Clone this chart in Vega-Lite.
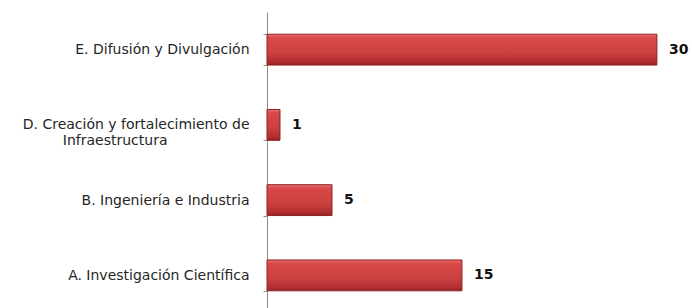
{
  "$schema": "https://vega.github.io/schema/vega-lite/v6.json",
  "width": 425,
  "height": 301,
  "autosize": "none",
  "padding": {"left": 267, "top": 12, "right": 0, "bottom": 0},
  "background": "white",
  "config": {"view": {"stroke": null}},
  "data": {"values": [
    {"categoria": "E. Difusión y Divulgación", "valor": 30},
    {"categoria": "D. Creación y fortalecimiento de Infraestructura", "valor": 1},
    {"categoria": "B. Ingeniería e Industria", "valor": 5},
    {"categoria": "A. Investigación Científica", "valor": 15}
  ]},
  "encoding": {
    "y": {
      "field": "categoria", "type": "nominal",
      "sort": ["E. Difusión y Divulgación", "D. Creación y fortalecimiento de Infraestructura", "B. Ingeniería e Industria", "A. Investigación Científica"],
      "scale": {"paddingInner": 0.59, "paddingOuter": 0.295},
      "axis": {
        "title": null,
        "tickBand": "extent",
        "tickSize": 4,
        "tickColor": "#8c8c8c",
        "domainColor": "#8c8c8c",
        "labelFont": "DejaVu Sans",
        "labelFontSize": 14,
        "labelColor": "#262626",
        "labelPadding": 14,
        "labelLimit": 0,
        "labelLineHeight": 16,
        "labelExpr": "datum.value == 'D. Creación y fortalecimiento de Infraestructura' ? ['D. Creación y fortalecimiento de', 'Infraestructura\u2800\u2800\u2800\u2800\u2800\u2800\u2800\u2800'] : datum.value"
      }
    },
    "x": {
      "field": "valor", "type": "quantitative",
      "scale": {"domain": [0, 32.7], "nice": false},
      "axis": null
    }
  },
  "layer": [
    {
      "mark": {
        "type": "bar",
        "stroke": "#8e2222",
        "strokeWidth": 1,
        "fill": {
          "gradient": "linear", "x1": 0, "y1": 0, "x2": 0, "y2": 1,
          "stops": [
            {"offset": 0, "color": "#e77070"},
            {"offset": 0.12, "color": "#d84848"},
            {"offset": 0.6, "color": "#cc4040"},
            {"offset": 0.9, "color": "#b02e2e"},
            {"offset": 1, "color": "#962424"}
          ]
        }
      }
    },
    {
      "mark": {"type": "text", "align": "left", "baseline": "middle", "dx": 12, "font": "DejaVu Sans", "fontSize": 14, "fontWeight": "bold", "color": "#111111"},
      "encoding": {"text": {"field": "valor", "type": "quantitative"}}
    }
  ]
}
